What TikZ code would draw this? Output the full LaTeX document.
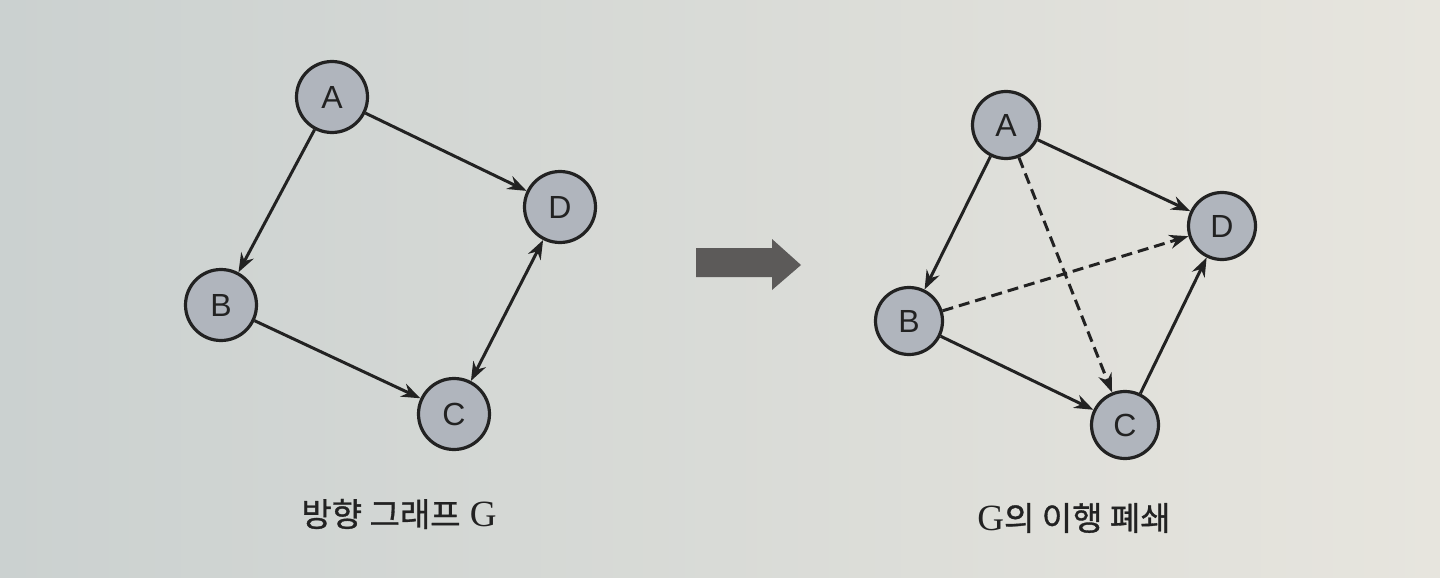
\documentclass[tikz,border=0pt]{standalone}
\usepackage{fontspec}
\setmainfont{Liberation Serif}
\newfontfamily\letterfont{Liberation Sans}
\newfontfamily\krfont[FakeBold=1]{Noto Sans CJK KR}
\usetikzlibrary{arrows.meta,shapes.geometric}
\definecolor{nodefill}{HTML}{B0B5BD}
\definecolor{inkc}{HTML}{222222}
\definecolor{bigarrow}{HTML}{5C5A59}
\definecolor{paperL}{HTML}{CBD1D0}
\definecolor{paperR}{HTML}{E7E5DE}
\tikzset{
  vert/.style={circle, draw=inkc, line width=3.2pt, fill=nodefill, minimum size=67pt, inner sep=0pt, font=\letterfont\fontsize{32}{32}\selectfont, text=inkc},
  edge/.style={draw=inkc, line width=3pt, -{Stealth[length=19pt,width=14pt]}},
  bothedge/.style={draw=inkc, line width=3pt, {Stealth[length=19pt,width=14pt]}-{Stealth[length=19pt,width=14pt]}},
  dashedge/.style={edge, dash pattern=on 11pt off 6pt},
  caption/.style={font=\fontsize{37}{37}\selectfont, text=inkc, anchor=center},
}
\begin{document}
\begin{tikzpicture}[x=1pt,y=-1pt]
\shade[left color=paperL, right color=paperR] (0,0) rectangle (1440,578);
\useasboundingbox (0,0) rectangle (1440,578);
% left graph
\node[vert, minimum size=71pt] (lA) at (332,97) {A};
\node[vert, minimum size=71pt] (lB) at (221,305) {B};
\node[vert, minimum size=71pt] (lC) at (454,414) {C};
\node[vert, minimum size=71pt] (lD) at (560,207) {D};
\draw[edge] (lA) -- (lB);
\draw[edge] (lA) -- (lD);
\draw[edge] (lB) -- (lC);
\draw[bothedge] (lC) -- (lD);
% big arrow
\fill[bigarrow] (696,248) -- (772,248) -- (772,239) -- (801,265) -- (772,290) -- (772,277) -- (696,277) -- cycle;
% right graph
\node[vert] (rA) at (1006,125) {A};
\node[vert] (rB) at (909,321) {B};
\node[vert] (rC) at (1125,425) {C};
\node[vert] (rD) at (1222,226) {D};
\draw[edge] (rA) -- (rB);
\draw[edge] (rA) -- (rD);
\draw[edge] (rB) -- (rC);
\draw[edge] (rC) -- (rD);
\draw[dashedge] (rA) -- (rC);
\draw[dashedge] (rB) -- (rD);
% captions
\node[caption] (capL) at (399,514) {{\krfont\fontsize{33}{33}\selectfont 방향 그래프} G};
\node[caption] (capR) at (1074,518) {G{\krfont\fontsize{33}{33}\selectfont 의 이행 폐쇄}};
\end{tikzpicture}
\end{document}
